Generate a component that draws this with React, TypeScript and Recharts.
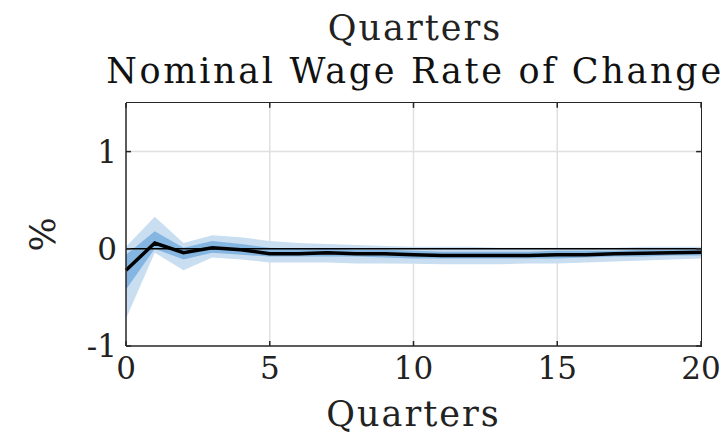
import { ComposedChart, Area, Line, XAxis, YAxis, CartesianGrid, ReferenceLine, Label } from "recharts";

const quarters = [0, 1, 2, 3, 4, 5, 6, 7, 8, 9, 10, 11, 12, 13, 14, 15, 16, 17, 18, 19, 20];
const median = [-0.22, 0.06, -0.04, 0.01, -0.01, -0.05, -0.05, -0.04, -0.05, -0.05, -0.06, -0.07, -0.07, -0.07, -0.07, -0.06, -0.06, -0.05, -0.045, -0.04, -0.035];
const innerHigh = [-0.06, 0.18, 0.01, 0.08, 0.05, 0.01, 0.0, 0.0, -0.01, -0.01, -0.02, -0.03, -0.03, -0.03, -0.03, -0.02, -0.02, -0.02, -0.01, -0.01, -0.01];
const innerLow = [-0.42, 0.0, -0.11, -0.04, -0.06, -0.08, -0.08, -0.08, -0.08, -0.09, -0.1, -0.1, -0.1, -0.1, -0.1, -0.1, -0.09, -0.08, -0.08, -0.07, -0.07];
const outerHigh = [0.02, 0.33, 0.06, 0.14, 0.12, 0.08, 0.06, 0.05, 0.04, 0.03, 0.02, 0.02, 0.02, 0.01, 0.01, 0.01, 0.01, 0.01, 0.02, 0.02, 0.02];
const outerLow = [-0.72, -0.04, -0.22, -0.09, -0.11, -0.14, -0.14, -0.14, -0.15, -0.15, -0.155, -0.16, -0.16, -0.16, -0.15, -0.15, -0.14, -0.13, -0.12, -0.11, -0.1];

const xTicks = [0, 5, 10, 15, 20];
const yTicks = [-1, 0, 1];
const xDomain = [0, 20];
const yDomain = [-1, 1.5];

const data = quarters.map((q, i) => ({
  q,
  median: median[i],
  inner: [innerLow[i], innerHigh[i]],
  outer: [outerLow[i], outerHigh[i]],
}));

const FONT = "DejaVu Serif";
const AXIS = "#262626";

const PercentLabel = ({ viewBox }: any) => {
  const x = viewBox.x + 42;
  const y = viewBox.y + viewBox.height / 2 + 10;
  return (
    <text x={x} y={y} transform={`rotate(-90 ${x} ${y})`} textAnchor="middle" dominantBaseline="central" fontFamily={FONT} fontSize={36} fill="#222">
      %
    </text>
  );
};

const App = () => {
  const tickStyle = { fontFamily: FONT, fontSize: 31, fill: "#222" };
  const top = yDomain[1];
  const right = xDomain[1];
  return (
    <div style={{ position: "absolute", left: 0, top: 0, width: 724, height: 434, background: "#fff" }}>
      <div style={{ position: "absolute", left: 0, width: 830, top: 8, textAlign: "center", fontFamily: FONT, fontSize: 35, color: "#222", lineHeight: "40px", letterSpacing: 2 }}>
        Quarters
      </div>
      <div style={{ position: "absolute", left: 0, width: 830, top: 51, textAlign: "center", fontFamily: FONT, fontSize: 35, color: "#111", whiteSpace: "nowrap", lineHeight: "40px", letterSpacing: 2.7 }}>
        Nominal Wage Rate of Change
      </div>
      <ComposedChart
        width={724}
        height={434}
        data={data}
        margin={{ top: 103, right: 23, left: 0, bottom: 0 }}
        style={{ position: "absolute", left: 0, top: 0 }}
      >
        <CartesianGrid stroke="#e0e0e0" strokeWidth={1.5} verticalValues={[5, 10, 15]} horizontalValues={[1]} />
        <XAxis
          dataKey="q"
          type="number"
          domain={xDomain}
          ticks={xTicks}
          height={88}
          stroke={AXIS}
          strokeWidth={1.5}
          tickSize={-5}
          tickMargin={16}
          tick={tickStyle}
          interval={0}
        >
          <Label value="Quarters" position="insideBottom" offset={8} style={{ fontFamily: FONT, fontSize: 35, fill: "#222", letterSpacing: 2 }} />
        </XAxis>
        <YAxis
          type="number"
          domain={yDomain}
          ticks={yTicks}
          width={126}
          stroke={AXIS}
          strokeWidth={1.5}
          tickSize={-5}
          tickMargin={14}
          tick={tickStyle}
          tickFormatter={(v: number) => `${v}`}
          interval={0}
        >
          <Label content={<PercentLabel />} />
        </YAxis>
        <Area dataKey="outer" type="linear" stroke="none" fill="#c9def1" fillOpacity={1} isAnimationActive={false} />
        <Area dataKey="inner" type="linear" stroke="none" fill="#85b6e1" fillOpacity={1} isAnimationActive={false} />
        <ReferenceLine y={0} stroke="#000" strokeWidth={1.5} />
        <Line dataKey="median" type="linear" stroke="#000" strokeWidth={3.5} dot={false} isAnimationActive={false} />
        {/* inward ticks on the top and right edges */}
        {xTicks.map((t) => (
          <ReferenceLine key={`tt${t}`} ifOverflow="visible" segment={[{ x: t, y: top }, { x: t, y: top - 0.05 }]} stroke={AXIS} strokeWidth={1.5} />
        ))}
        {yTicks.map((t) => (
          <ReferenceLine key={`rt${t}`} ifOverflow="visible" segment={[{ x: right, y: t }, { x: right - 0.17, y: t }]} stroke={AXIS} strokeWidth={1.5} />
        ))}
      </ComposedChart>
      {/* top and right edges of the axes box */}
      <div
        style={{
          position: "absolute",
          left: 126,
          top: 102,
          width: 576,
          height: 245,
          boxSizing: "border-box",
          borderTop: `1.5px solid ${AXIS}`,
          borderRight: `1.5px solid ${AXIS}`,
          pointerEvents: "none",
        }}
      />
    </div>
  );
};

export default App;
